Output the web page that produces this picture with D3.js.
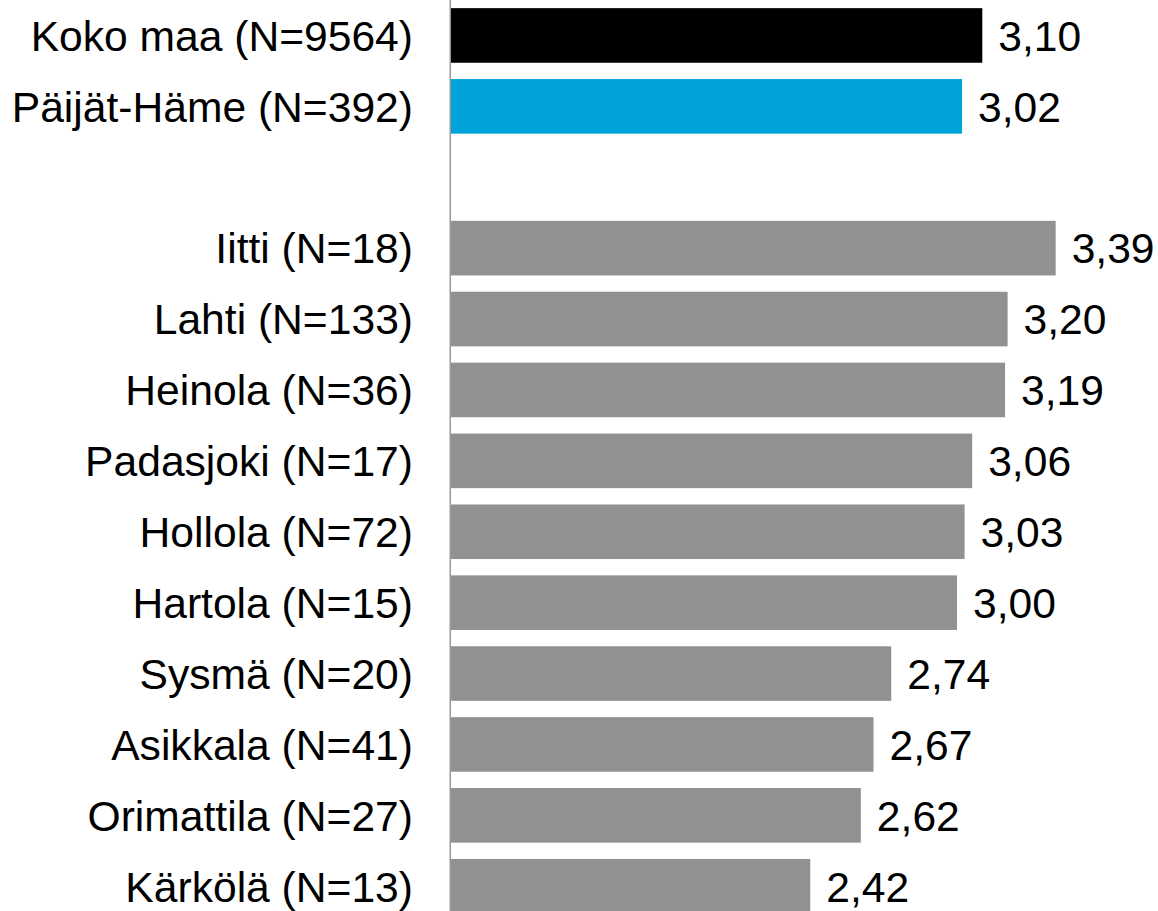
<!DOCTYPE html>
<html>
<head>
<meta charset="utf-8">
<script src="https://cdn.jsdelivr.net/npm/d3@7"></script>
<style>
  body { margin: 0; background: #fff; }
  svg { display: block; }
</style>
</head>
<body>
<script>
// rows of the chart, top to bottom ("" is the empty gap row)
var labels = ["Koko maa (N=9564)", "Päijät-Häme (N=392)", "",
  "Iitti (N=18)", "Lahti (N=133)", "Heinola (N=36)", "Padasjoki (N=17)",
  "Hollola (N=72)", "Hartola (N=15)", "Sysmä (N=20)", "Asikkala (N=41)",
  "Orimattila (N=27)", "Kärkölä (N=13)"];
var values = [3.10, 3.02, null, 3.39, 3.20, 3.19, 3.06, 3.03, 3.00, 2.74, 2.67, 2.62, 2.42];
var colors = ["#000000", "#00a3da", null, "#919191", "#919191", "#919191", "#919191",
  "#919191", "#919191", "#919191", "#919191", "#919191", "#919191"];

var width = 1158, height = 911;

var svg = d3.select("body").append("svg")
  .attr("width", width)
  .attr("height", height);

var rows = labels.map(function(l, i){ return {key: i, label: l, value: values[i], color: colors[i]}; });

var yScale = d3.scaleBand()
  .domain(rows.map(function(d){ return d.key; }))
  .range([0, 921.7])
  .paddingInner(0.23)
  .paddingOuter(0.115);

var xScale = d3.scaleLinear().domain([1, 4]).range([451, 451 + 3 * 253]);

var bars = rows.filter(function(d){ return d.value !== null; });

svg.selectAll(".bar")
  .data(bars)
  .enter()
  .append("rect")
  .attr("class", "bar")
  .attr("x", xScale(1))
  .attr("y", function(d){ return yScale(d.key); })
  .attr("width", function(d){ return xScale(d.value) - xScale(1); })
  .attr("height", yScale.bandwidth())
  .style("fill", function(d){ return d.color; });

// vertical axis line
svg.append("line")
  .attr("x1", xScale(1) - 0.75).attr("x2", xScale(1) - 0.75)
  .attr("y1", 0).attr("y2", height)
  .style("stroke", "#9a9a9a")
  .style("stroke-width", "1.5px");

svg.selectAll(".cat")
  .data(bars)
  .enter()
  .append("text")
  .attr("class", "cat")
  .attr("x", 413)
  .attr("y", function(d){ return yScale(d.key) + yScale.bandwidth() / 2; })
  .attr("dy", "0.36em")
  .attr("text-anchor", "end")
  .style("font-family", "Arial, 'Liberation Sans', sans-serif")
  .style("font-size", "42.6px")
  .style("fill", "#000")
  .text(function(d){ return d.label; });

var fmt = function(v){ return d3.format(".2f")(v).replace(".", ","); };

svg.selectAll(".val")
  .data(bars)
  .enter()
  .append("text")
  .attr("class", "val")
  .attr("x", function(d){ return xScale(d.value) + 16; })
  .attr("y", function(d){ return yScale(d.key) + yScale.bandwidth() / 2; })
  .attr("dy", "0.36em")
  .style("font-family", "Arial, 'Liberation Sans', sans-serif")
  .style("font-size", "42.6px")
  .style("fill", "#000")
  .text(function(d){ return fmt(d.value); });
</script>
</body>
</html>
